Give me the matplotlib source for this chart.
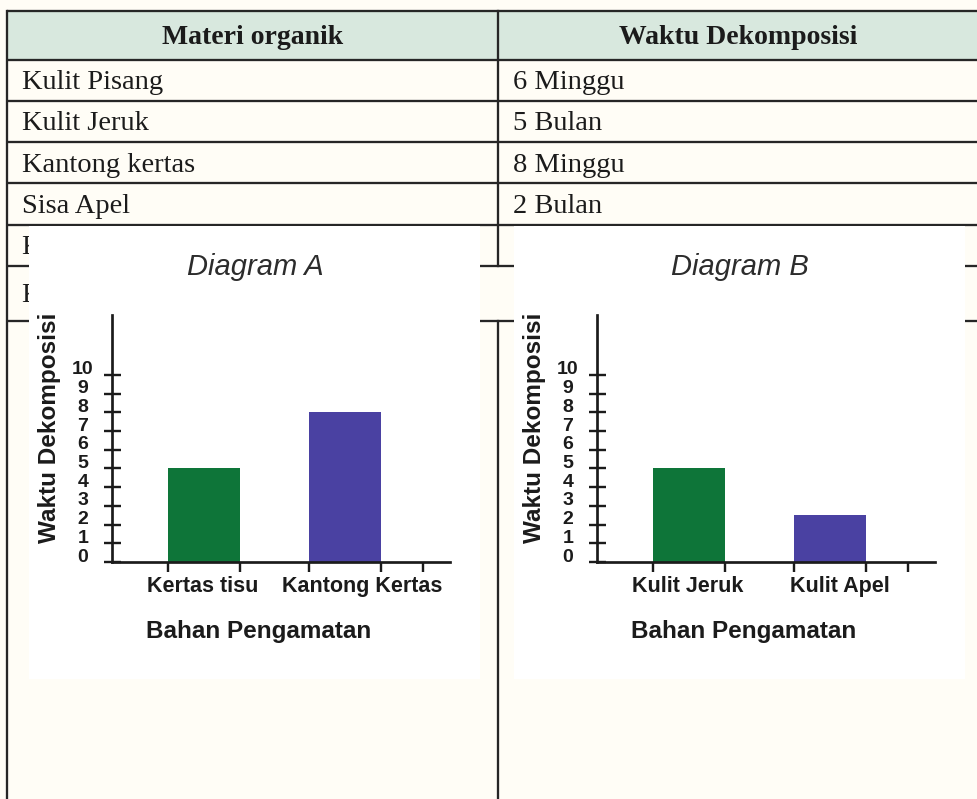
import matplotlib
matplotlib.use("Agg")
import matplotlib.pyplot as plt
from matplotlib.patches import Rectangle
from matplotlib.transforms import offset_copy

# table contents
table_header = ["Materi organik", "Waktu Dekomposisi"]
materials = ["Kulit Pisang", "Kulit Jeruk", "Kantong kertas", "Sisa Apel", "Kertas tisu", "Kulit Apel"]
durations = ["6 Minggu", "5 Bulan", "8 Minggu", "2 Bulan"]

# bar charts
y_ticks = list(range(0, 11))
diag_a_labels = ["Kertas tisu", "Kantong Kertas"]
diag_a_values = [5, 8]
diag_b_labels = ["Kulit Jeruk", "Kulit Apel"]
diag_b_values = [5, 2.5]
bar_colors = ["#0e7539", "#4a41a2"]

W, H = 978, 799
PT = 0.72  # points per pixel at dpi 100
ink = "#1b1b1b"
line_col = "#262626"
paper = "#fffdf6"

fig = plt.figure(figsize=(W / 100, H / 100), dpi=100)
fig.patch.set_facecolor(paper)

bg = fig.add_axes([0, 0, 1, 1])
bg.set_xlim(0, W)
bg.set_ylim(H, 0)
bg.axis("off")

# --- table ---
left_x, mid_x = 7, 498
row_edges = [10.5, 59.5, 100.5, 142, 183, 224.5, 266, 321]
serif = dict(family="Liberation Serif", color=ink)

bg.add_patch(Rectangle((left_x, row_edges[0]), W - left_x, row_edges[1] - row_edges[0],
                       facecolor="#d8e8de", edgecolor="none", zorder=0))
tlw = 2.3 * PT
for y in row_edges:
    bg.plot([left_x, W], [y, y], color=line_col, lw=tlw, zorder=1, solid_capstyle="butt")
bg.plot([left_x, left_x], [row_edges[0], H], color=line_col, lw=tlw, zorder=1)
bg.plot([mid_x, mid_x], [row_edges[0], row_edges[6]], color=line_col, lw=tlw, zorder=1)
bg.plot([mid_x, mid_x], [row_edges[7], H], color=line_col, lw=tlw, zorder=1)

hy = (row_edges[0] + row_edges[1]) / 2 + 9
bg.text((left_x + mid_x) / 2, hy, table_header[0], ha="center", va="baseline",
        fontsize=20, weight="bold", **serif)
bg.text((mid_x + W) / 2, hy, table_header[1], ha="center", va="baseline",
        fontsize=20, weight="bold", **serif)
for i, name in enumerate(materials):
    yc = (row_edges[i + 1] + row_edges[i + 2]) / 2 + 9
    bg.text(22, yc, name, ha="left", va="baseline", fontsize=20.5, zorder=1, **serif)
for i, dur in enumerate(durations):
    yc = (row_edges[i + 1] + row_edges[i + 2]) / 2 + 9
    bg.text(513, yc, dur, ha="left", va="baseline", fontsize=20.5, **serif)

# --- diagrams pasted over the table ---
sans = dict(family="Liberation Sans", color=ink)


def diagram(x0, title, cats, vals, label_shift):
    bg.add_patch(Rectangle((x0 - 83, 226), 451, 453, facecolor="white",
                           edgecolor="none", zorder=5))
    ax = fig.add_axes([x0 / W, 1 - 562 / H, 338 / W, 247 / H])
    ax.patch.set_visible(False)
    pos = [i + 1 for i in range(len(cats))]
    bw = 0.51
    ax.bar(pos, vals, width=bw, color=bar_colors, edgecolor="none", zorder=1)
    ax.set_xlim(0.35, 2.74)
    ax.set_ylim(0, 13.2)

    for s in ("top", "right"):
        ax.spines[s].set_visible(False)
    for s in ("left", "bottom"):
        ax.spines[s].set_linewidth(2.7 * PT)
        ax.spines[s].set_color(ink)

    edges = []
    for p in pos:
        edges += [p - bw / 2, p + bw / 2]
    edges.append(len(cats) + 0.55)
    ax.set_xticks(edges)
    label_pos = [p + d for p, d in zip(pos, label_shift)]
    ax.set_xticks(label_pos, labels=cats, minor=True, fontsize=15.5, weight="bold", **sans)
    ax.tick_params(axis="x", which="major", direction="out", length=10 * PT,
                   width=2.4 * PT, color=ink, labelbottom=False)
    ax.tick_params(axis="x", which="minor", length=0, pad=14 * PT)

    ax.set_yticks(y_ticks)
    ax.tick_params(axis="y", direction="inout", length=17 * PT, width=2.4 * PT,
                   color=ink, labelleft=False)
    # tightly stacked numbers sitting a little above each tick
    lab_tf = offset_copy(ax.get_yaxis_transform(), fig=fig, x=-29 * PT, y=5 * PT,
                         units="points")
    for v in y_ticks:
        ax.text(0, v, str(v), transform=lab_tf, ha="center", va="center",
                fontsize=14, weight="bold", **sans)

    ax.text(-0.186, 0.5425, "Waktu Dekomposisi", transform=ax.transAxes, rotation=90,
            ha="center", va="center", fontsize=17.5, weight="bold", **sans)
    ax.text(0.435, -0.283, "Bahan Pengamatan", transform=ax.transAxes,
            ha="center", va="center", fontsize=17.5, weight="bold", **sans)
    ax.text(0.423, 1.194, title, transform=ax.transAxes, ha="center", va="center",
            fontsize=21, style="italic", family="Liberation Sans", color="#2c2c2c")
    return ax


diagram(112, "Diagram A", diag_a_labels, diag_a_values, [-0.01, 0.12])
diagram(597, "Diagram B", diag_b_labels, diag_b_values, [-0.01, 0.07])

fig.savefig("out.png", dpi=100, facecolor=fig.get_facecolor())
